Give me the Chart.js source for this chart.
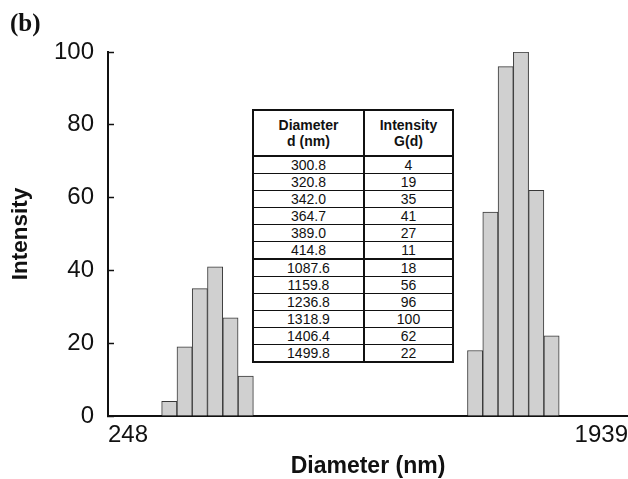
<!DOCTYPE html>
<html>
<head>
<meta charset="utf-8">
<script src="https://cdn.jsdelivr.net/npm/chart.js@4.4.1/dist/chart.umd.min.js"></script>
<style>
  html, body { margin: 0; padding: 0; background: #fff; }
  #wrap { position: relative; width: 628px; height: 479px; }
  #panel {
    position: absolute; left: 10px; top: 10px;
    font: bold 25px "Liberation Serif", "Times New Roman", serif; color: #111;
    line-height: 25px;
  }
  #sizeTable {
    position: absolute; left: 252px; top: 109px; width: 202px;
    border-collapse: collapse; background: #fff;
    font: 14px "Liberation Sans", Arial, sans-serif; color: #111;
    border: 2px solid #111;
  }
  #sizeTable th, #sizeTable td {
    padding: 0; text-align: center; border: 1px solid #111;
    height: 16px; line-height: 15px;
  }
  #sizeTable th { height: 44px; line-height: 16px; border-bottom: 2px solid #111; }
  #sizeTable th:first-child, #sizeTable td:first-child { width: 109px; border-right: 2px solid #111; }
  #sizeTable tr.split td { border-top: 2px solid #111; }
</style>
</head>
<body>
<div id="wrap">
  <canvas id="sizeChart" width="628" height="479"></canvas>
  <div id="panel">(b)</div>
  <table id="sizeTable"></table>
</div>
<script>
/* ── Data ─────────────────────────────────────────────────────── */
const diameters   = [300.8, 320.8, 342.0, 364.7, 389.0, 414.8, 1087.6, 1159.8, 1236.8, 1318.9, 1406.4, 1499.8];
const intensities = [4, 19, 35, 41, 27, 11, 18, 56, 96, 100, 62, 22];
const xTickLabels = ['248', '1939'];

// axis runs one bin past the labelled ends
const X_MIN = 232.5;
const X_MAX = 2068;

/* ── Inset table ──────────────────────────────────────────────── */
(function buildTable() {
  const rows = diameters.map((d, i) => `
    <tr class="${i === 6 ? 'split' : ''}">
      <td>${d.toFixed(1)}</td>
      <td>${intensities[i]}</td>
    </tr>`).join('');
  document.getElementById('sizeTable').innerHTML = `
    <tr><th>Diameter<br>d (nm)</th><th>Intensity<br>G(d)</th></tr>
    ${rows}`;
})();

/* ── Chart ────────────────────────────────────────────────────── */
Chart.defaults.font.family = '"Liberation Sans", Arial, sans-serif';
Chart.defaults.color = '#111';

new Chart(document.getElementById('sizeChart').getContext('2d'), {
  type: 'bar',
  data: {
    datasets: [{
      data: diameters.map((d, i) => ({ x: d, y: intensities[i] })),
      backgroundColor: '#d0d0d0',
      borderColor: '#383838',
      borderWidth: 1,
      categoryPercentage: 1,
      barPercentage: 1,
    }],
  },
  options: {
    responsive: false,
    animation: false,
    layout: { padding: { top: 52, left: 0, right: 0, bottom: 0 } },
    plugins: { legend: { display: false }, tooltip: { enabled: false } },
    scales: {
      x: {
        type: 'logarithmic',
        min: X_MIN,
        max: X_MAX,
        offset: false,
        afterBuildTicks: s => { s.ticks = [{ value: X_MIN }, { value: X_MAX }]; },
        // labels sit flush with the axis ends, so no side padding
        afterFit: s => { s.height = 63; s.paddingLeft = 0; s.paddingRight = 0; },
        grid: { display: false, drawTicks: false, offset: false },
        border: { display: true, color: '#111', width: 2 },
        ticks: {
          autoSkip: false, maxRotation: 0, align: 'inner', padding: 5,
          font: { size: 24 },
          callback: (v, i) => xTickLabels[i],
        },
        title: {
          display: true, text: 'Diameter (nm)',
          font: { size: 23, weight: 'bold', lineHeight: 1 },
          padding: { top: 0, bottom: 1 },
        },
      },
      y: {
        min: 0,
        max: 100,
        afterFit: s => { s.width = 108; },
        grid: { display: true, drawOnChartArea: false, drawTicks: true, tickLength: -6, tickColor: '#111', tickWidth: 1.5 },
        border: { color: '#111', width: 2 },
        ticks: { stepSize: 20, padding: 20, font: { size: 24 } },
        title: {
          display: true, text: 'Intensity',
          font: { size: 22.5, weight: 'bold', lineHeight: 1 },
          padding: { top: 10, bottom: 0 },
        },
      },
    },
  },
});
</script>
</body>
</html>
